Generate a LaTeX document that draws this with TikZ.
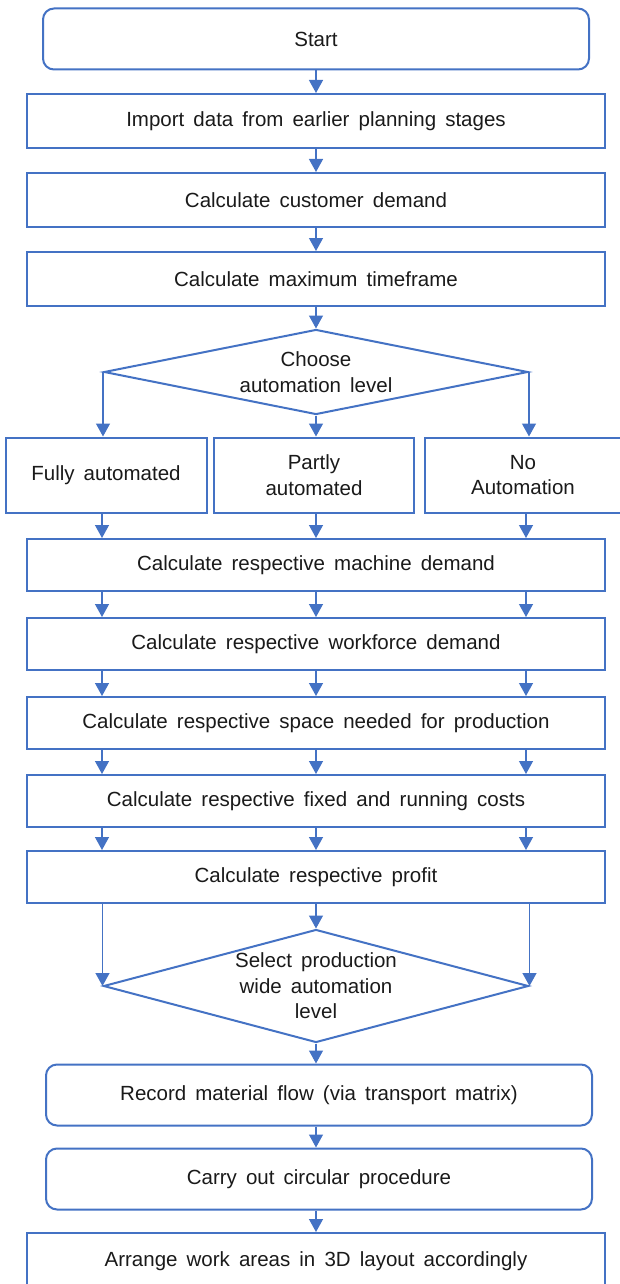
\documentclass[tikz,border=0pt]{standalone}
\usepackage{fontspec}
\setmainfont{Liberation Sans}[WordSpace=1.6]
\definecolor{FlowBlue}{HTML}{4472C4}
\definecolor{FlowText}{HTML}{1A1A1A}
\usetikzlibrary{shapes.geometric,arrows.meta}

\begin{document}
\begin{tikzpicture}[
  x=1pt, y=-1pt,
  font=\fontsize{20.5}{25.5}\selectfont,
  stepbox/.style={
    rectangle, draw=FlowBlue, line width=2pt,
    fill=white, text=FlowText, inner sep=0pt,
    minimum width=578pt, minimum height=52pt, align=center,
  },
  termbox/.style={stepbox, rounded corners=11pt, minimum width=546pt, minimum height=61pt},
  choicebox/.style={stepbox, minimum width=200pt, minimum height=75pt},
  decision/.style={
    diamond, draw=FlowBlue, line width=2pt, fill=white,
    text=FlowText, inner sep=0pt, align=center,
  },
  arr/.style={-{Triangle[width=14pt,length=13pt]}, line width=1.3pt, color=FlowBlue},
]
  \clip (0,0) rectangle (620,1284);

  % main column
  \node[termbox]  (start)     at (316,39)  {Start};
  \node[stepbox, minimum height=54pt] (import) at (316,121) {Import data from earlier planning stages};
  \node[stepbox, minimum height=54pt] (demand) at (316,200) {Calculate customer demand};
  \node[stepbox, minimum height=54pt] (timeframe) at (316,279) {Calculate maximum timeframe};
  \node[decision, minimum width=424pt, minimum height=85pt, shape aspect=5]
    (choose) at (316,372) {Choose\\automation level};

  % three automation levels
  \coordinate (colL) at (102,0);
  \coordinate (colM) at (316,0);
  \coordinate (colR) at (526,0);
  \node[choicebox, minimum width=201pt] (fully)  at (106,475)   {Fully automated};
  \node[choicebox]                      (partly) at (314,475)   {Partly\\automated};
  \node[choicebox, minimum width=196pt] (noauto) at (523,475)   {No\\Automation};

  \node[stepbox] (machine)   at (316,565) {Calculate respective machine demand};
  \node[stepbox] (workforce) at (316,644) {Calculate respective workforce demand};
  \node[stepbox] (space)     at (316,723) {Calculate respective space needed for production};
  \node[stepbox] (costs)     at (316,801) {Calculate respective fixed and running costs};
  \node[stepbox] (profit)    at (316,877) {Calculate respective profit};

  \node[decision, minimum width=425pt, minimum height=113pt, shape aspect=3.76]
    (select) at (316,986) {Select production\\wide automation\\level};

  \node[termbox] (record)  at (319,1095) {Record material flow (via transport matrix)};
  \node[termbox] (circular) at (319,1179) {Carry out circular procedure};
  \node[stepbox, minimum height=56pt] (arrange) at (316,1261) {Arrange work areas in 3D layout accordingly};

  % connectors
  \draw[arr] (start.south -| colM) -- (import.north -| colM);
  \draw[arr] (import) -- (demand);
  \draw[arr] (demand) -- (timeframe);
  \draw[arr] (timeframe) -- (choose);

  \draw[arr] (choose.west)  -- (choose.west |- fully.north);
  \draw[arr] (choose.south) -- (choose.south |- partly.north);
  \draw[arr] (choose.east)  -- (choose.east |- noauto.north);

  \draw[arr] (fully.south -| colL)  -- (machine.north -| colL);
  \draw[arr] (partly.south -| colM) -- (machine.north -| colM);
  \draw[arr] (noauto.south -| colR) -- (machine.north -| colR);

  \foreach \a/\b in {machine/workforce, workforce/space, space/costs, costs/profit}
    \foreach \c in {colL, colM, colR}
      \draw[arr] (\a.south -| \c) -- (\b.north -| \c);

  \draw[arr] (profit.south -| select.west) -- (select.west);
  \draw[arr] (profit.south -| colM)        -- (select.north);
  \draw[arr] (profit.south -| select.east) -- (select.east);

  \draw[arr] (select.south) -- (select.south |- record.north);
  \draw[arr] (record.south -| colM)   -- (circular.north -| colM);
  \draw[arr] (circular.south -| colM) -- (arrange.north -| colM);
\end{tikzpicture}
\end{document}
